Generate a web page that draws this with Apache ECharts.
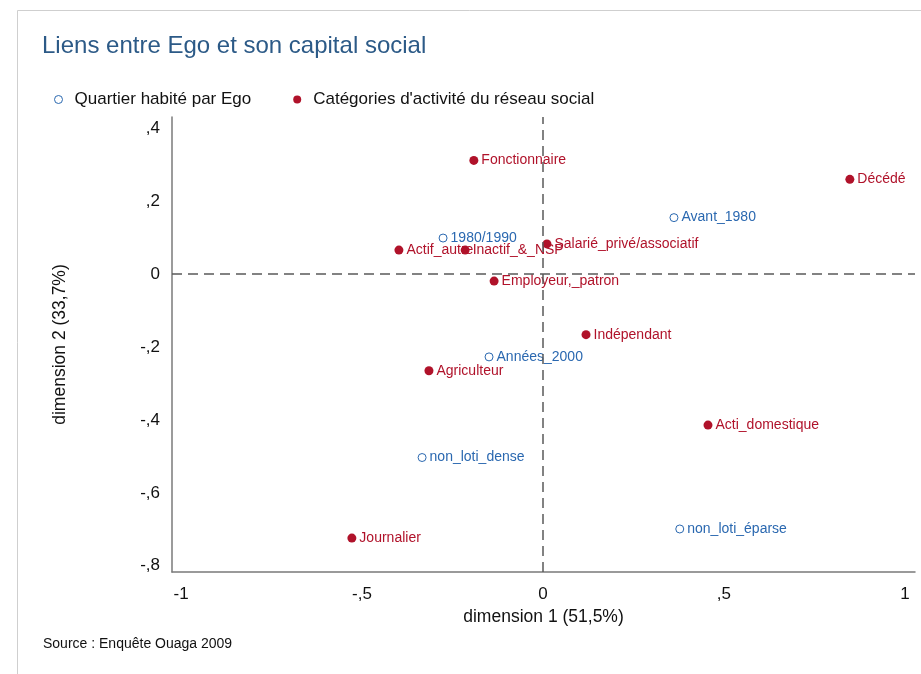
<!DOCTYPE html>
<html>
<head>
<meta charset="utf-8">
<script src="https://cdn.jsdelivr.net/npm/echarts@6/dist/echarts.min.js"></script>
<style>
html,body{margin:0;padding:0;background:#fff;}
#chart{width:921px;height:674px;}
</style>
</head>
<body>
<div id="chart"></div>
<script>
// Quartier habité par Ego (open blue circles)
const quartierNames = ['1980/1990', 'Avant_1980', 'Années_2000', 'non_loti_dense', 'non_loti_éparse'];
const quartierX = [-0.276, 0.362, -0.149, -0.334, 0.378];
const quartierY = [0.099, 0.155, -0.227, -0.503, -0.699];

// Catégories d'activité du réseau social (filled red dots)
const activiteNames = ['Fonctionnaire', 'Décédé', 'Salarié_privé/associatif', 'Actif_autre', 'Inactif_&_NSP', 'Employeur,_patron', 'Indépendant', 'Agriculteur', 'Acti_domestique', 'Journalier'];
const activiteX = [-0.191, 0.848, 0.011, -0.398, -0.215, -0.135, 0.119, -0.315, 0.456, -0.528];
const activiteY = [0.312, 0.260, 0.083, 0.066, 0.066, -0.019, -0.166, -0.265, -0.414, -0.724];

const xTicks = [-1, -0.5, 0, 0.5, 1];
const yTicks = [-0.8, -0.6, -0.4, -0.2, 0, 0.2, 0.4];

const seriesNames = ['Quartier habité par Ego', "Catégories d'activité du réseau social"];

function fmt(v) {
  const r = Math.round(v * 10) / 10;
  if (r === 0) return '0';
  return String(r).replace(/^(-?)0\./, '$1,').replace('.', ',');
}

const blue = '#2a68b0';
const red = '#b0122a';
const font = 'Liberation Sans, Arial, Helvetica, sans-serif';

const chart = echarts.init(document.getElementById('chart'));
chart.setOption({
  backgroundColor: '#fff',
  animation: false,
  textStyle: { fontFamily: font },
  title: {
    text: 'Liens entre Ego et son capital social',
    left: 37, top: 29,
    textStyle: { fontFamily: font, fontSize: 24, fontWeight: 'normal', color: '#2c5a87' }
  },
  legend: {
    left: 49, top: 86,
    itemWidth: 8, itemHeight: 8, itemGap: 42,
    textStyle: { fontFamily: font, fontSize: 17, color: '#111', padding: [0, 0, 0, 7] },
    data: [
      { name: seriesNames[0], icon: 'circle', itemStyle: { color: '#fff', borderColor: blue, borderWidth: 1, opacity: 1 } },
      { name: seriesNames[1], icon: 'circle', itemStyle: { color: red, opacity: 1 } }
    ]
  },
  grid: { left: 172, right: 6, top: 117, bottom: 102, containLabel: false },
  xAxis: {
    type: 'value',
    min: -1.025, max: 1.028,
    name: 'dimension 1 (51,5%)',
    nameLocation: 'middle', nameGap: 36,
    nameTextStyle: { fontFamily: font, fontSize: 17.5, color: '#111' },
    axisLine: { show: true, onZero: false, lineStyle: { color: '#7a7a7a', width: 1.5 } },
    axisTick: { show: false },
    splitLine: { show: false },
    axisLabel: { customValues: xTicks, formatter: fmt, fontFamily: font, fontSize: 17, color: '#111', margin: 14 }
  },
  yAxis: {
    type: 'value',
    min: -0.817, max: 0.431,
    name: 'dimension 2 (33,7%)',
    nameLocation: 'middle', nameGap: 103,
    nameTextStyle: { fontFamily: font, fontSize: 17.5, color: '#111' },
    axisLine: { show: true, onZero: false, lineStyle: { color: '#7a7a7a', width: 1.5 } },
    axisTick: { show: false },
    splitLine: { show: false },
    axisLabel: { customValues: yTicks, formatter: fmt, fontFamily: font, fontSize: 17, color: '#111', margin: 12 }
  },
  graphic: [
    { type: 'rect', left: 15, top: 8, shape: { width: 1000, height: 1000 }, style: { fill: 'none', stroke: '#cfcfcf', lineWidth: 1 }, silent: true, z: -10 },
    { type: 'text', left: 43, top: 637, style: { text: 'Source : Enquête Ouaga 2009', font: '14px ' + font, fill: '#111' } }
  ],
  series: [
    {
      name: seriesNames[0],
      type: 'scatter',
      symbol: 'circle', symbolSize: 8,
      itemStyle: { color: '#fff', borderColor: blue, borderWidth: 1, opacity: 1 },
      label: { show: true, position: 'right', distance: 3, formatter: p => p.data[2], color: blue, fontFamily: font, fontSize: 14 },
      data: quartierNames.map((n, i) => [quartierX[i], quartierY[i], n]),
      z: 3,
      markLine: {
        silent: true, symbol: 'none',
        label: { show: false },
        lineStyle: { color: '#5a5a5a', type: [10, 6], width: 1.5, opacity: 1 },
        data: [{ xAxis: 0 }, { yAxis: 0 }]
      }
    },
    {
      name: seriesNames[1],
      type: 'scatter',
      symbol: 'circle', symbolSize: 9,
      itemStyle: { color: red, opacity: 1 },
      label: { show: true, position: 'right', distance: 3, formatter: p => p.data[2], color: red, fontFamily: font, fontSize: 14 },
      labelLayout: { hideOverlap: false },
      data: activiteNames.map((n, i) => [activiteX[i], activiteY[i], n]),
      z: 4
    }
  ]
});
</script>
</body>
</html>
